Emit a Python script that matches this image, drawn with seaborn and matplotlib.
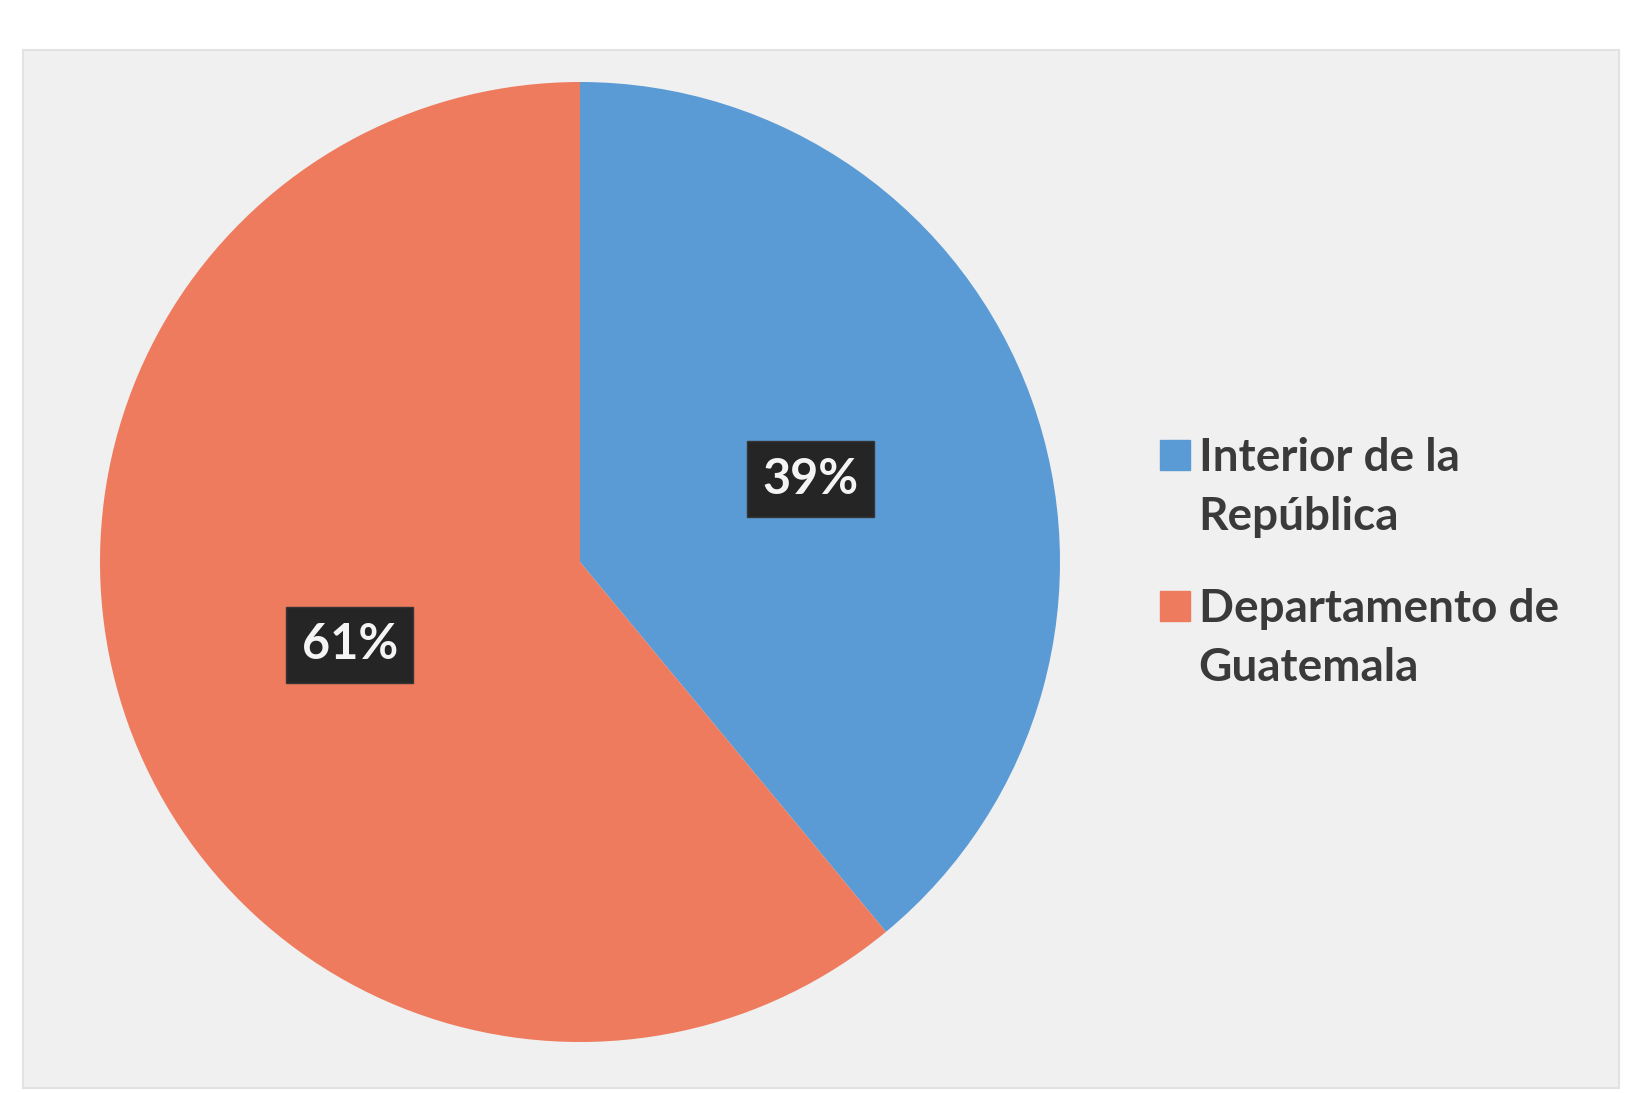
import matplotlib
matplotlib.use("Agg")
import matplotlib.pyplot as plt
from matplotlib.patches import Rectangle
from matplotlib.lines import Line2D
import seaborn as sns

categories = ["Interior de la\nRepública", "Departamento de\nGuatemala"]
values = [39, 61]
colors = ["#5b9bd5", "#ee7b5e"]

sns.set_theme(style="white")
plt.rcParams['font.family'] = ['Lato', 'DejaVu Sans']

fig = plt.figure(figsize=(16.4, 10.93), dpi=100)
fig.patch.set_facecolor("white")

bg = fig.add_axes([0, 0, 1, 1], zorder=-10)
bg.set_xlim(0, 1640)
bg.set_ylim(1093, 0)
bg.axis("off")
bg.add_patch(Rectangle((23, 50), 1596, 1038, facecolor="#f0f0f0",
                       edgecolor="#e2e2e2", linewidth=1.5))

ax = fig.add_axes([100 / 1640, 51 / 1093, 960 / 1640, 960 / 1093])
ax.set_facecolor("none")
wedges, texts, autotexts = ax.pie(
    values, colors=colors, startangle=90, counterclock=False,
    autopct=lambda p: f"{p:.0f}%", pctdistance=0.51,
    wedgeprops=dict(linewidth=0),
    textprops=dict(color="#f4f4f4", fontsize=35, fontweight="bold"))
for t in autotexts:
    t.set_bbox(dict(boxstyle="square,pad=0.32", facecolor="#252525", edgecolor="#353535"))
ax.set_xlim(-1, 1)
ax.set_ylim(-1, 1)
ax.set_aspect("equal")

handles = [Line2D([0], [0], marker="s", linestyle="none", markersize=21,
                  markerfacecolor=c, markeredgecolor=c) for c in colors]
leg = fig.legend(handles, categories, loc="center left",
                 bbox_to_anchor=(1139 / 1640, 1 - 563 / 1093), frameon=False,
                 labelcolor="#3a3a3a", handletextpad=0.15,
                 labelspacing=1.1, borderaxespad=0, handlelength=0.75,
                 prop=dict(size=33, weight="bold"))
for t in leg.get_texts():
    t.set_linespacing(1.5)
for h in leg.legend_handles:
    yd = h.get_ydata()
    h.set_ydata([y + 24 for y in yd])

fig.savefig("out.png", dpi=100)
